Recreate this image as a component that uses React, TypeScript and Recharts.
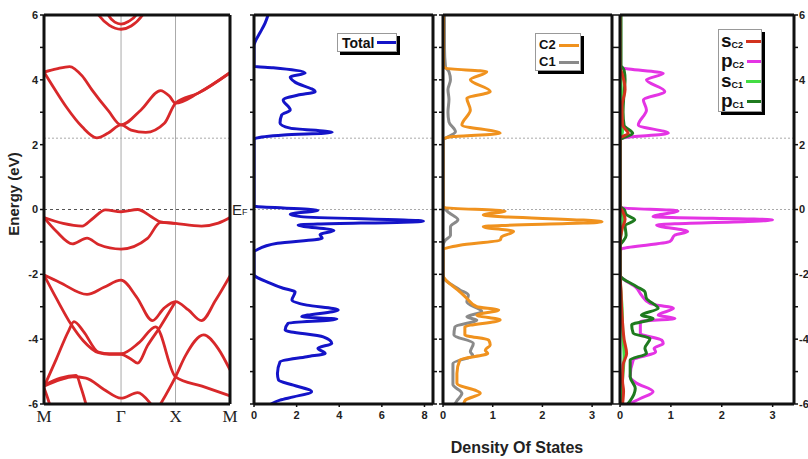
import { Line, LineChart, ReferenceLine, XAxis, YAxis } from 'recharts';

type Pair = [number, number];

// ---- band structure: [k, E(eV)] ; M=0, Γ=1.414, X=2.414, M=3.414
const K_TICKS = [0, 1.414, 2.414, 3.414];
const K_LABELS = ['M', 'Γ', 'X', 'M'];
const E_TICKS = [-6, -5, -4, -3, -2, -1, 0, 1, 2, 3, 4, 5, 6];

const BAND_T1: Pair[] = [[0.85, 6.4], [1.0, 6.0], [1.2, 5.68], [1.414, 5.56], [1.6, 5.66], [1.81, 6.0], [1.95, 6.4]];
const BAND_T2: Pair[] = [[1.1, 6.3], [1.18, 6.0], [1.3, 5.78], [1.414, 5.72], [1.55, 5.8], [1.69, 6.0], [1.78, 6.3]];
const BAND_C1: Pair[] = [[0, 4.24], [0.23, 4.34], [0.47, 4.41], [0.7, 4.12], [0.88, 3.69], [1.18, 3.05], [1.414, 2.61], [1.78, 3.07], [2.14, 3.67], [2.3, 3.5], [2.414, 3.28], [2.83, 3.59], [3.414, 4.22]];
const BAND_C2: Pair[] = [[0, 4.24], [0.2, 3.7], [0.41, 3.16], [0.7, 2.55], [0.97, 2.21], [1.18, 2.36], [1.414, 2.61], [1.6, 2.45], [1.87, 2.38], [2.21, 2.66], [2.414, 3.28], [2.83, 3.59], [3.414, 4.22]];
const BAND_V1: Pair[] = [[0, -0.25], [0.35, -0.43], [0.7, -0.51], [0.88, -0.3], [1.13, -0.01], [1.414, -0.07], [1.72, 0.0], [1.95, -0.2], [2.14, -0.38], [2.414, -0.43], [2.89, -0.51], [3.2, -0.42], [3.414, -0.25]];
const BAND_V2: Pair[] = [[0, -0.25], [0.23, -0.68], [0.52, -1.06], [0.79, -0.88], [1.0, -1.08], [1.414, -1.22], [1.9, -0.89], [2.14, -0.4], [2.414, -0.43]];
const BAND_W: Pair[] = [[0, -2.02], [0.29, -2.25], [0.79, -2.62], [1.1, -2.4], [1.414, -2.18], [1.7, -2.7], [1.99, -3.43], [2.2, -3.05], [2.414, -2.84], [2.65, -3.1], [2.89, -3.43], [3.15, -2.8], [3.414, -2.05]];
const BAND_L2: Pair[] = [[0, -2.02], [0.23, -2.75], [0.5, -3.55], [0.72, -4.05], [1.0, -4.42], [1.2, -4.47], [1.414, -4.47], [1.6, -4.62], [1.72, -4.74], [1.9, -4.2], [2.14, -3.6], [2.414, -2.84]];
const BAND_L3: Pair[] = [[0, -5.47], [0.23, -4.6], [0.45, -3.75], [0.55, -3.46], [0.72, -3.75], [1.0, -4.4], [1.2, -4.45], [1.414, -4.45], [1.75, -4.1], [2.05, -3.62], [2.414, -5.16], [2.9, -5.45], [3.414, -5.75]];
const BAND_L4: Pair[] = [[0, -5.45], [0.3, -5.25], [0.52, -5.16], [0.77, -5.2], [1.1, -5.55], [1.414, -5.82], [1.72, -5.65], [1.96, -6.0], [2.05, -6.2]];
const BAND_L5: Pair[] = [[0, -5.42], [0.3, -5.2], [0.59, -5.12], [0.68, -5.5], [0.77, -6.0], [0.82, -6.3]];
const BAND_L6: Pair[] = [[0, -5.5], [0.11, -6.05], [0.15, -6.3]];
const BAND_L7: Pair[] = [[2.0, -6.4], [2.14, -6.0], [2.414, -5.16], [2.6, -4.5], [2.93, -3.87], [3.2, -4.3], [3.414, -4.95]];

const BANDS = [BAND_T1, BAND_T2, BAND_C1, BAND_C2, BAND_V1, BAND_V2, BAND_W, BAND_L2, BAND_L3, BAND_L4, BAND_L5, BAND_L6, BAND_L7];

// ---- DOS: [E(eV), states]
const TOTAL: Pair[] = [[6.0, 0.66], [5.75, 0.52], [5.45, 0.28], [5.17, 0.05], [5.05, 0], [4.42, 0], [4.37, 0.9], [4.21, 2.4], [4.09, 1.7], [3.94, 1.9], [3.63, 2.87], [3.53, 2.07], [3.38, 1.37], [3.07, 1.7], [2.92, 1.3], [2.67, 1.22], [2.51, 1.7], [2.38, 3.67], [2.3, 1.4], [2.2, 0.1], [2.15, 0], [0.1, 0], [0.09, 0.12], [-0.02, 3.0], [-0.15, 1.7], [-0.22, 2.2], [-0.36, 7.95], [-0.48, 2.07], [-0.65, 3.75], [-0.77, 3.1], [-0.89, 3.2], [-1.04, 1.1], [-1.25, 0.12], [-1.3, 0], [-2.0, 0], [-2.27, 0.75], [-2.43, 1.37], [-2.54, 1.93], [-2.79, 1.78], [-2.95, 2.48], [-3.1, 3.95], [-3.31, 2.24], [-3.38, 3.89], [-3.51, 1.6], [-3.72, 1.46], [-3.93, 3.25], [-4.13, 3.65], [-4.28, 3.0], [-4.44, 3.34], [-4.54, 2.48], [-4.7, 1.22], [-5.06, 1.1], [-5.26, 1.15], [-5.42, 1.85], [-5.62, 2.7], [-5.78, 1.85], [-5.88, 1.22], [-6.0, 0.8]];

const C2: Pair[] = [[6, 0.01], [4.45, 0.01], [4.36, 0.05], [4.25, 0.88], [4.0, 0.55], [3.64, 0.95], [3.43, 0.48], [3.07, 0.55], [2.61, 0.38], [2.35, 1.15], [2.25, 0.2], [2.17, 0], [0.1, 0], [0.06, 0.04], [-0.05, 1.25], [-0.17, 0.81], [-0.38, 3.2], [-0.53, 0.81], [-0.68, 1.42], [-0.84, 1.18], [-0.94, 1.15], [-1.1, 0.34], [-1.25, 0], [-2.02, 0], [-2.54, 0.34], [-2.74, 0.48], [-3.0, 0.68], [-3.1, 1.12], [-3.26, 0.68], [-3.41, 1.15], [-3.62, 0.44], [-3.87, 0.44], [-4.03, 0.92], [-4.18, 0.95], [-4.34, 0.85], [-4.44, 0.9], [-4.64, 0.34], [-5.06, 0.28], [-5.36, 0.28], [-5.67, 0.75], [-5.88, 0.45], [-5.98, 0.42]];
const C1: Pair[] = [[6, 0.03], [5.0, 0.03], [4.4, 0.05], [4.25, 0.12], [4.0, 0.15], [3.7, 0.1], [3.4, 0.12], [3.0, 0.1], [2.7, 0.12], [2.4, 0.25], [2.2, 0.05], [2.15, 0], [0.1, 0], [0.0, 0.05], [-0.1, 0.12], [-0.32, 0.3], [-0.53, 0.15], [-0.8, 0.15], [-0.94, 0.05], [-1.1, 0], [-2.05, 0], [-2.48, 0.34], [-2.64, 0.51], [-2.85, 0.48], [-3.15, 0.78], [-3.31, 0.48], [-3.41, 0.68], [-3.62, 0.24], [-3.87, 0.22], [-4.13, 0.61], [-4.39, 0.55], [-4.5, 0.6], [-4.75, 0.2], [-5.4, 0.2], [-5.67, 0.38], [-5.9, 0.28], [-6, 0.24]];

const P_C2: Pair[] = [[6, 0], [4.45, 0], [4.37, 0.05], [4.2, 0.85], [4.0, 0.52], [3.64, 0.88], [3.38, 0.46], [3.07, 0.52], [2.61, 0.36], [2.35, 0.95], [2.22, 0.1], [2.17, 0], [0.08, 0], [0.05, 0.05], [-0.04, 1.14], [-0.22, 0.65], [-0.32, 3.0], [-0.48, 0.72], [-0.68, 1.33], [-0.79, 1.08], [-0.99, 0.98], [-1.2, 0.06], [-1.25, 0], [-2.02, 0], [-2.43, 0.33], [-2.64, 0.42], [-2.9, 0.59], [-3.05, 1.05], [-3.26, 0.75], [-3.36, 1.08], [-3.46, 0.4], [-3.82, 0.4], [-4.03, 0.82], [-4.13, 0.85], [-4.28, 0.67], [-4.39, 0.7], [-4.64, 0.26], [-5.16, 0.2], [-5.36, 0.33], [-5.62, 0.65], [-5.83, 0.4], [-5.98, 0.2]];
const P_C1: Pair[] = [[6, 0.02], [4.45, 0.02], [4.3, 0.08], [4.0, 0.1], [3.6, 0.08], [3.0, 0.06], [2.6, 0.08], [2.35, 0.25], [2.2, 0.05], [2.15, 0], [0.1, 0], [0.0, 0.08], [-0.15, 0.12], [-0.32, 0.29], [-0.5, 0.1], [-0.8, 0.12], [-1.0, 0.05], [-1.1, 0], [-2.02, 0], [-2.38, 0.33], [-2.54, 0.49], [-2.74, 0.52], [-3.05, 0.75], [-3.26, 0.42], [-3.36, 0.65], [-3.56, 0.23], [-3.82, 0.26], [-3.98, 0.59], [-4.28, 0.49], [-4.44, 0.52], [-4.64, 0.2], [-5.16, 0.2], [-5.52, 0.3], [-5.9, 0.2], [-6, 0.15]];
const S_C2: Pair[] = [[6, 0], [4.4, 0], [4.2, 0.04], [3.7, 0.1], [3.2, 0.04], [2.6, 0.05], [2.35, 0.16], [2.2, 0], [0.1, 0], [-0.05, 0.05], [-0.3, 0.1], [-0.6, 0.04], [-1.1, 0], [-2.0, 0], [-2.5, 0.02], [-3.0, 0.03], [-3.5, 0.05], [-4.0, 0.08], [-4.44, 0.13], [-4.8, 0.06], [-5.3, 0.05], [-5.6, 0.07], [-6, 0.05]];
const S_C1: Pair[] = [[6, 0.01], [4.4, 0.01], [3.5, 0.03], [2.4, 0.05], [2.2, 0], [0.1, 0], [-0.3, 0.06], [-1.1, 0], [-2.0, 0], [-3.0, 0.04], [-4.0, 0.06], [-4.5, 0.08], [-5.5, 0.04], [-6, 0.03]];

const RED = '#d8282a';
const BLUE = '#1414c8';
const ORANGE = '#f0921e';
const GRAY = '#8a8a8a';
const MAGENTA = '#e434e4';
const DKGREEN = '#1f7a1f';
const LTGREEN = '#44dd44';
const SRED = '#d2321e';

const SANS = '"Liberation Sans", Arial, sans-serif';
const AXIS = { stroke: '#111', strokeWidth: 3 };
const TLINE = { stroke: '#111', strokeWidth: 1.5 };
const TICK = { fontSize: 11, fontWeight: 700, fill: '#222', fontFamily: SANS };
const eLabel = (v: number) => (v % 2 === 0 ? String(v) : '');
const kLabel = (v: number) => (v < 0.5 ? K_LABELS[0] : v < 2 ? K_LABELS[1] : v < 3 ? K_LABELS[2] : K_LABELS[3]);

const bandPts = (arr: Pair[]) => arr.map(([k, e]) => ({ k, e }));
const dosPts = (arr: Pair[]) => arr.map(([e, v]) => ({ e, v }));

function BandPanel() {
  return (
    <div style={{ position: 'absolute', left: 0, top: 0 }}>
      <LineChart width={240} height={440} margin={{ top: 15, right: 10, bottom: 0, left: 18 }}>
        <XAxis type="number" dataKey="k" domain={[0, 3.414]} ticks={K_TICKS} interval={0} allowDataOverflow tickFormatter={kLabel} height={36} tickSize={4} tickLine={false} axisLine={AXIS} tick={{ fontFamily: '"Liberation Serif", serif', fontSize: 17, fill: '#222' }} />
        <YAxis type="number" domain={[-6, 6]} ticks={E_TICKS} interval={0} allowDataOverflow width={26} tickSize={4} tickFormatter={eLabel} axisLine={AXIS} tickLine={TLINE} tick={TICK} />
        <ReferenceLine x={1.414} stroke="#aaa" />
        <ReferenceLine x={2.414} stroke="#aaa" />
        <ReferenceLine y={2.2} stroke="#aaa" strokeDasharray="2 2" />
        <ReferenceLine y={0} stroke="#555" strokeDasharray="3 3" />
        {BANDS.map((b, i) => (
          <Line key={i} data={bandPts(b)} dataKey="e" type="monotone" stroke={RED} strokeWidth={2.8} dot={false} isAnimationActive={false} />
        ))}
        <ReferenceLine y={6} stroke="#111" strokeWidth={3} />
        <ReferenceLine x={3.414} stroke="#111" strokeWidth={3} />
      </LineChart>
    </div>
  );
}

interface DosSeries {
  data: Pair[];
  color: string;
}

function DosPanel({ left, width, xMax, xTicks, series, rightLabels }: { left: number; width: number; xMax: number; xTicks: number[]; series: DosSeries[]; rightLabels?: boolean }) {
  return (
    <div style={{ position: 'absolute', left, top: 0 }}>
      <LineChart layout="vertical" width={width} height={440} margin={{ top: 15, right: 4, bottom: 0, left: 4 }}>
        <XAxis type="number" domain={[0, xMax]} ticks={xTicks} interval={0} allowDataOverflow height={36} tickSize={3} tickMargin={4} axisLine={AXIS} tickLine={TLINE} tick={TICK} />
        <YAxis yAxisId="l" reversed type="number" dataKey="e" domain={[-6, 6]} ticks={E_TICKS} interval={0} allowDataOverflow width={26} tickSize={4} tickFormatter={() => ''} axisLine={AXIS} tickLine={TLINE} />
        <YAxis yAxisId="r" reversed orientation="right" type="number" dataKey="e" domain={[-6, 6]} ticks={E_TICKS} interval={0} allowDataOverflow width={27} tickSize={4} tickMargin={1} tickFormatter={rightLabels ? eLabel : () => ''} axisLine={AXIS} tickLine={TLINE} tick={TICK} />
        <ReferenceLine yAxisId="l" y={2.2} stroke="#aaa" strokeDasharray="2 2" />
        <ReferenceLine yAxisId="l" y={0} stroke="#aaa" strokeDasharray="2 2" />
        {series.map((s, i) => (
          <Line key={i} yAxisId="l" data={dosPts(s.data)} dataKey="v" type="monotone" stroke={s.color} strokeWidth={3} dot={false} isAnimationActive={false} />
        ))}
        <ReferenceLine yAxisId="l" y={6} stroke="#111" strokeWidth={3} />
      </LineChart>
    </div>
  );
}

const boxStyle = (left: number, top: number, w: number, h: number) => ({
  position: 'absolute' as const,
  left,
  top,
  width: w,
  height: h,
  background: '#fff',
  border: '1px solid #999',
  boxShadow: '3px 3px 0 #000',
  fontFamily: SANS,
  fontWeight: 700,
  color: '#111',
});

const swatch = (color: string) => <span style={{ display: 'inline-block', width: 20, height: 3, background: color, marginLeft: 3, verticalAlign: 'middle' }} />;

function OrbitalRow({ letter, sub, color }: { letter: string; sub: string; color: string }) {
  return (
    <div style={{ height: 20, display: 'flex', alignItems: 'center' }}>
      <span style={{ fontSize: 19, lineHeight: '16px' }}>{letter}</span>
      <span style={{ fontSize: 9, alignSelf: 'flex-end', marginBottom: 1, width: 13 }}>{sub}</span>
      {swatch(color)}
    </div>
  );
}

export default function App() {
  return (
    <div style={{ position: 'absolute', left: 0, top: 0, width: 808, height: 459, overflow: 'hidden', background: '#fff' }}>
      <BandPanel />
      <DosPanel left={224} width={240} xMax={8.4} xTicks={[0, 2, 4, 6, 8]} series={[{ data: TOTAL, color: BLUE }]} />
      <DosPanel left={413} width={230} xMax={3.4} xTicks={[0, 1, 2, 3]} series={[{ data: C1, color: GRAY }, { data: C2, color: ORANGE }]} />
      <DosPanel left={590} width={235} xMax={3.42} xTicks={[0, 1, 2, 3]} rightLabels series={[{ data: P_C2, color: MAGENTA }, { data: P_C1, color: DKGREEN }, { data: S_C1, color: LTGREEN }, { data: S_C2, color: SRED }]} />

      <div style={{ ...boxStyle(337, 33, 60, 19), fontSize: 14, display: 'flex', alignItems: 'center', paddingLeft: 4, boxSizing: 'border-box' }}>
        Total{swatch(BLUE)}
      </div>
      <div style={{ ...boxStyle(535, 33, 46, 38), fontSize: 13, padding: '2px 0 0 3px', boxSizing: 'border-box', lineHeight: '17px' }}>
        <div>C2{swatch(ORANGE)}</div>
        <div>C1{swatch(GRAY)}</div>
      </div>
      <div style={{ ...boxStyle(718, 29, 44, 83), padding: '1px 0 0 2px', boxSizing: 'border-box' }}>
        <OrbitalRow letter="s" sub="C2" color={SRED} />
        <OrbitalRow letter="p" sub="C2" color={MAGENTA} />
        <OrbitalRow letter="s" sub="C1" color={LTGREEN} />
        <OrbitalRow letter="p" sub="C1" color={DKGREEN} />
      </div>

      <div style={{ position: 'absolute', left: 13, top: 194, transform: 'translate(-50%, -50%) rotate(-90deg)', fontFamily: SANS, fontWeight: 700, fontSize: 15, color: '#222', whiteSpace: 'nowrap' }}>
        Energy (eV)
      </div>
      <div style={{ position: 'absolute', left: 517, top: 448, transform: 'translate(-50%, -50%)', fontFamily: SANS, fontWeight: 700, fontSize: 16, color: '#222', whiteSpace: 'nowrap' }}>
        Density Of States
      </div>
      <div style={{ position: 'absolute', left: 232, top: 201, fontFamily: SANS, fontSize: 15, color: '#222', whiteSpace: 'nowrap' }}>
        E<span style={{ fontSize: 9 }}>F</span>
      </div>
    </div>
  );
}
